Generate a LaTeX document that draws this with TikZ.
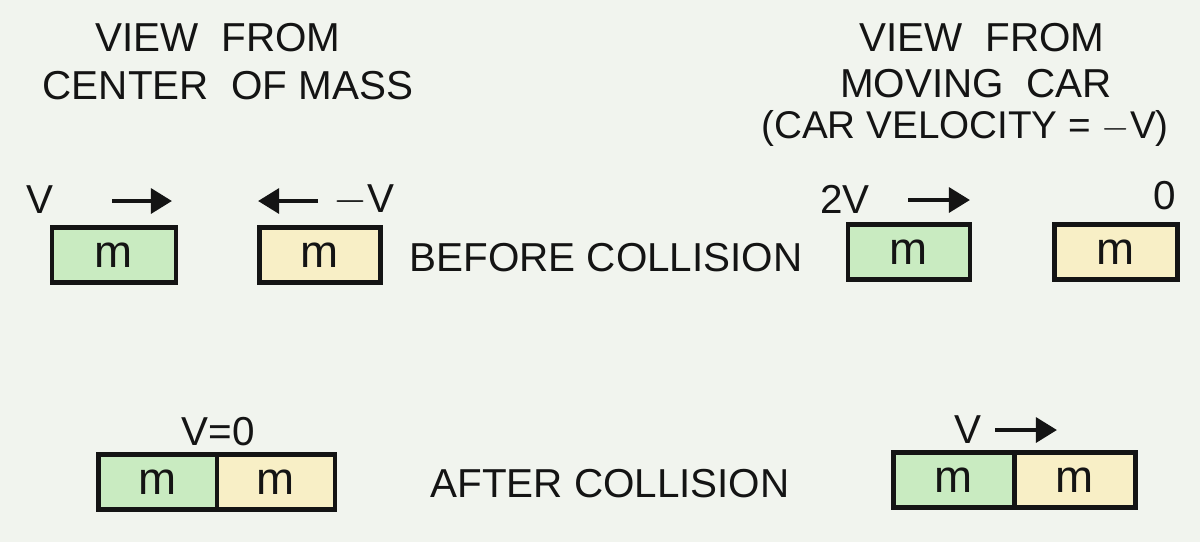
\documentclass[tikz,border=0pt]{standalone}
\usepackage{fontspec}
\setmainfont{Liberation Sans}
\usetikzlibrary{arrows.meta}
\definecolor{bgc}{HTML}{F1F4EE}
\definecolor{greenm}{HTML}{C9EBC1}
\definecolor{yellowm}{HTML}{F8EFC6}
\definecolor{ink}{HTML}{141414}
\tikzset{
  lbl/.style={font=\fontsize{23}{27}\selectfont, text=ink, inner sep=0pt},
  small/.style={font=\fontsize{22}{26}\selectfont, text=ink, inner sep=0pt},
  massbox/.style={draw=ink, line width=2.4pt, minimum height=1.1cm, inner sep=0pt, font=\fontsize{26}{30}\selectfont, text=ink},
  gbox/.style={massbox, fill=greenm},
  ybox/.style={massbox, fill=yellowm},
  velarrow/.style={draw=ink, line width=2.6pt, -{Triangle[length=12pt,width=14pt]}},
}
\begin{document}
\begin{tikzpicture}[x=0.02cm,y=-0.02cm]
\useasboundingbox (0,0) rectangle (1200,542);
\fill[bgc] (0,0) rectangle (1200,542);

% headings
\node[lbl] (h1) at (218,38) {VIEW\ \ FROM};
\node[lbl] (h2) at (228,86) {CENTER\ \ OF MASS};
\node[lbl] (h3) at (982,38) {VIEW\ \ FROM};
\node[lbl] (h4) at (976,84) {MOVING\ \ CAR};
\node[small] (h5) at (965,128) {(CAR VELOCITY = $-$V)};

% before collision, center of mass view
\node[gbox, minimum width=2.48cm] (b1) at (114,255) {m};
\node[ybox, minimum width=2.42cm] (b2) at (320,255) {m};
\node[lbl] (v1) at (40,200) {V};
\coordinate (a1s) at (112,201);
\coordinate (a1e) at (172,201);
\draw[velarrow] (a1s) -- (a1e);
\coordinate (a2s) at (318,201);
\coordinate (a2e) at (258,201);
\draw[velarrow] (a2s) -- (a2e);
\node[lbl] (v2) at (364,200) {$-$V};

\node[lbl] (bc) at (606,258) {BEFORE COLLISION};

% before collision, moving car view
\node[gbox, minimum width=2.44cm] (b3) at (909,252) {m};
\node[ybox, minimum width=2.46cm] (b4) at (1116,252) {m};
\node[lbl] (v3) at (845,199) {2V};
\coordinate (a3s) at (908,200);
\coordinate (a3e) at (970,200);
\draw[velarrow] (a3s) -- (a3e);
\node[lbl] (v4) at (1165,196) {0};

% after collision, center of mass view
\node[gbox, minimum width=2.38cm] (c1) at (158,482) {m};
\node[ybox, minimum width=2.36cm] (c2) at (276,482) {m};
\node[lbl] (v5) at (218,432) {V=0};

\node[lbl] (ac) at (610,484) {AFTER COLLISION};

% after collision, moving car view
\node[gbox, minimum width=2.42cm] (d1) at (954,480) {m};
\node[ybox, minimum width=2.42cm] (d2) at (1075,480) {m};
\node[lbl] (v6) at (968,430) {V};
\coordinate (a4s) at (995,430);
\coordinate (a4e) at (1057,430);
\draw[velarrow] (a4s) -- (a4e);
\end{tikzpicture}
\end{document}
